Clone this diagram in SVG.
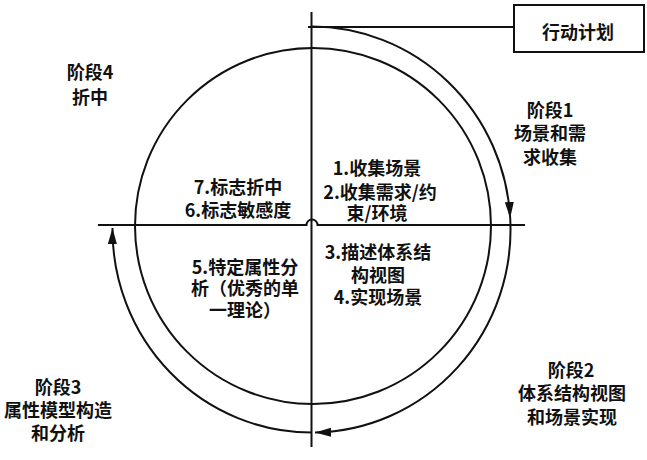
<svg xmlns="http://www.w3.org/2000/svg" width="647" height="460" viewBox="0 0 647 460">
<style>
.t{font-family:"Noto Sans CJK SC","Noto Sans",sans-serif;font-size:18px;font-weight:bold;fill:#111;text-anchor:middle}
.ln{fill:none;stroke:#111;stroke-width:2}
</style>
<defs>
<marker id="ah" markerUnits="userSpaceOnUse" markerWidth="18" markerHeight="10" refX="16" refY="4.5" orient="auto">
<path d="M0,0 L16,4.5 L0,9 z" fill="#111"/>
</marker>
</defs>
<rect width="647" height="460" fill="#fff"/>
<g id="connectors">
<circle class="ln" cx="313" cy="226" r="178"/>
<line class="ln" x1="311.5" y1="12" x2="311.5" y2="447"/>
<path class="ln" d="M98,225 L306.5,225 A5.5,5.5 0 0 1 317.5,225 L525,225"/>
<line class="ln" x1="308" y1="27" x2="514" y2="27"/>
<path class="ln" d="M311.5,26.5 A199,203 0 0 1 510.2,218" marker-end="url(#ah)"/>
<path class="ln" d="M510.2,218 A199,203 0 0 1 315,432.5" marker-end="url(#ah)"/>
<path class="ln" d="M311.5,432.5 A199,203 0 0 1 112.5,228" marker-end="url(#ah)"/>
</g>
<g id="action-plan">
<rect x="514" y="5" width="130" height="47" fill="#fff" stroke="#111" stroke-width="2"/>
<text class="t" x="578" y="38.5">行动计划</text>
</g>
<g id="stage1">
<text class="t" x="550" y="116.5">阶段1</text>
<text class="t" x="550" y="139.5">场景和需</text>
<text class="t" x="550" y="163.5">求收集</text>
</g>
<g id="stage2">
<text class="t" x="571" y="376.5">阶段2</text>
<text class="t" x="572" y="399.5">体系结构视图</text>
<text class="t" x="572" y="423.5">和场景实现</text>
</g>
<g id="stage3">
<text class="t" x="58" y="393.5">阶段3</text>
<text class="t" x="58" y="416.5">属性模型构造</text>
<text class="t" x="58" y="439.5">和分析</text>
</g>
<g id="stage4">
<text class="t" x="90" y="78.5">阶段4</text>
<text class="t" x="90" y="103.5">折中</text>
</g>
<g id="q1">
<text class="t" x="377" y="174.5">1.收集场景</text>
<text class="t" x="380" y="198.5">2.收集需求/约</text>
<text class="t" x="377" y="219.5">束/环境</text>
</g>
<g id="q2">
<text class="t" x="378" y="258.5">3.描述体系结</text>
<text class="t" x="378" y="281.5">构视图</text>
<text class="t" x="378" y="303.5">4.实现场景</text>
</g>
<g id="q3">
<text class="t" x="245" y="273.5">5.特定属性分</text>
<text class="t" x="245" y="294.5">析（优秀的单</text>
<text class="t" x="245" y="316.5">一理论）</text>
</g>
<g id="q4">
<text class="t" x="238" y="193.5">7.标志折中</text>
<text class="t" x="238" y="216.5">6.标志敏感度</text>
</g>
</svg>
